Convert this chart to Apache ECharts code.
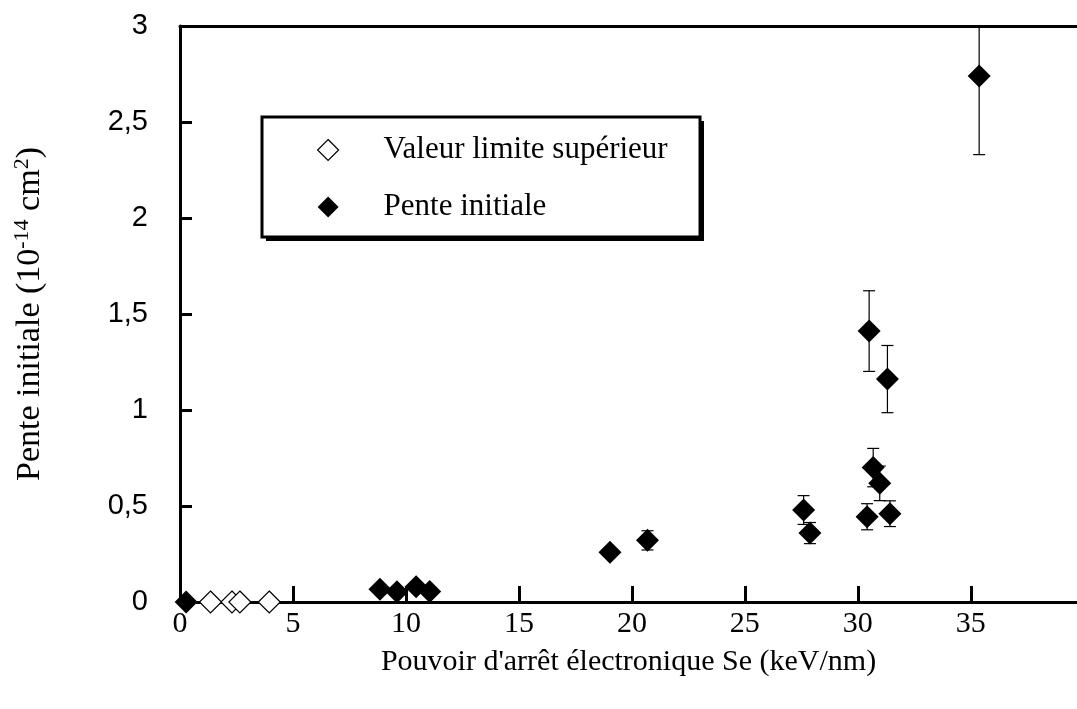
<!DOCTYPE html>
<html>
<head>
<meta charset="utf-8">
<script src="https://cdn.jsdelivr.net/npm/echarts@6/dist/echarts.min.js"></script>
<style>html,body{margin:0;padding:0;background:#fff}#c{width:1077px;height:709px}</style>
</head>
<body>
<div id="c"></div>
<script>
// Open diamonds: "Valeur limite supérieur"
var limitX = [1.35, 2.3, 2.65, 3.95];
var limitY = [0, 0, 0, 0];
// Filled diamonds: "Pente initiale"
var penteX = [0.27, 8.85, 9.6, 10.45, 11.05, 19.03, 20.69, 27.6, 27.88, 30.41, 30.5, 30.68, 30.97, 31.31, 31.42, 35.37];
var penteY = [0, 0.066, 0.054, 0.079, 0.055, 0.259, 0.321, 0.479, 0.359, 0.444, 1.411, 0.70, 0.618, 1.161, 0.46, 2.74];
var penteErr = [0, 0.01, 0.012, 0.01, 0.01, 0.02, 0.05, 0.075, 0.055, 0.068, 0.21, 0.10, 0.09, 0.175, 0.067, 0.41];
var legendNames = ['Valeur limite supérieur', 'Pente initiale'];
var xLabel = "Pouvoir d'arrêt électronique Se (keV/nm)";
var yLabelMain = "Pente initiale (10";

var limitData = limitX.map(function (x, i) { return [x, limitY[i]]; });
var penteData = penteX.map(function (x, i) { return [x, penteY[i]]; });
var errData = penteX.map(function (x, i) { return [x, penteY[i] - penteErr[i], penteY[i] + penteErr[i]]; });

var chart = echarts.init(document.getElementById('c'));
var serif = '"Liberation Serif", "Times New Roman", serif';
var sans = '"Liberation Sans", Arial, sans-serif';
var LB = { x: 262, y: 117, w: 438, h: 120 };
chart.setOption({
  animation: false,
  backgroundColor: '#fff',
  grid: { left: 180, right: 0, top: 26, bottom: 107, containLabel: false },
  graphic: [
    { type: 'rect', z: 5, shape: { x: LB.x + 4, y: LB.y + 4, width: LB.w, height: LB.h }, style: { fill: '#000' } },
    { type: 'rect', z: 5, shape: { x: LB.x, y: LB.y, width: LB.w, height: LB.h }, style: { fill: '#fff', stroke: '#000', lineWidth: 3 } }
  ],
  legend: {
    orient: 'vertical',
    left: LB.x + 55, top: LB.y + 17,
    padding: 0,
    itemGap: 25,
    itemWidth: 21, itemHeight: 21,
    z: 10,
    textStyle: { fontFamily: serif, fontSize: 31, lineHeight: 32, color: '#000', padding: [0, 0, 0, 40] },
    data: [
      { name: legendNames[0], icon: 'diamond', itemStyle: { color: '#fff', borderColor: '#000', borderWidth: 1.2 } },
      { name: legendNames[1], icon: 'diamond', itemStyle: { color: '#000' } }
    ]
  },
  xAxis: [{
    type: 'value', min: 0, max: 39.7, interval: 5,
    splitLine: { show: false },
    axisLine: { onZero: false, lineStyle: { color: '#000', width: 3 } },
    axisTick: { inside: true, length: 16, lineStyle: { color: '#000', width: 3 } },
    axisLabel: { showMaxLabel: false, fontFamily: serif, fontSize: 30, color: '#000', margin: 7 },
    name: xLabel, nameLocation: 'middle', nameGap: 45,
    nameTextStyle: { fontFamily: serif, fontSize: 30, color: '#000' }
  }, {
    type: 'value', min: 0, max: 39.7, position: 'top',
    splitLine: { show: false },
    axisLine: { onZero: false, lineStyle: { color: '#000', width: 3 } },
    axisTick: { show: false }, axisLabel: { show: false }
  }],
  yAxis: {
    type: 'value', min: 0, max: 3, interval: 0.5,
    splitLine: { show: false },
    axisLine: { onZero: false, lineStyle: { color: '#000', width: 3 } },
    axisTick: { inside: true, length: 12, lineStyle: { color: '#000', width: 3 } },
    axisLabel: {
      fontFamily: sans, fontSize: 29, color: '#000', margin: 32,
      formatter: function (v) { return String(v).replace('.', ','); }
    },
    name: yLabelMain + '{sup|-14}{n| cm}{sup|2}{n|)}', nameLocation: 'middle', nameGap: 130,
    nameTextStyle: {
      fontFamily: serif, fontSize: 34, color: '#000',
      rich: {
        sup: { fontFamily: serif, fontSize: 22, color: '#000', verticalAlign: 'top', padding: [0, 0, 17, 0] },
        n: { fontFamily: serif, fontSize: 34, color: '#000' }
      }
    }
  },
  series: [
    {
      type: 'custom', name: 'err', clip: true, z: 1, silent: true,
      renderItem: function (params, api) {
        var x = api.value(0);
        var lo = api.coord([x, api.value(1)]);
        var hi = api.coord([x, api.value(2)]);
        var cw = 6;
        var st = { stroke: '#000', lineWidth: 1.2 };
        return {
          type: 'group', children: [
            { type: 'line', shape: { x1: lo[0], y1: lo[1], x2: hi[0], y2: hi[1] }, style: st },
            { type: 'line', shape: { x1: lo[0] - cw, y1: lo[1], x2: lo[0] + cw, y2: lo[1] }, style: st },
            { type: 'line', shape: { x1: hi[0] - cw, y1: hi[1], x2: hi[0] + cw, y2: hi[1] }, style: st }
          ]
        };
      },
      encode: { x: 0, y: [1, 2] },
      data: errData
    },
    {
      type: 'scatter', name: legendNames[0], symbol: 'diamond', symbolSize: 22, z: 3,
      itemStyle: { color: '#fff', borderColor: '#000', borderWidth: 1.2, opacity: 1 },
      data: limitData
    },
    {
      type: 'scatter', name: legendNames[1], symbol: 'diamond', symbolSize: 23, z: 3,
      itemStyle: { color: '#000', opacity: 1 },
      data: penteData
    }
  ]
});
</script>
</body>
</html>
